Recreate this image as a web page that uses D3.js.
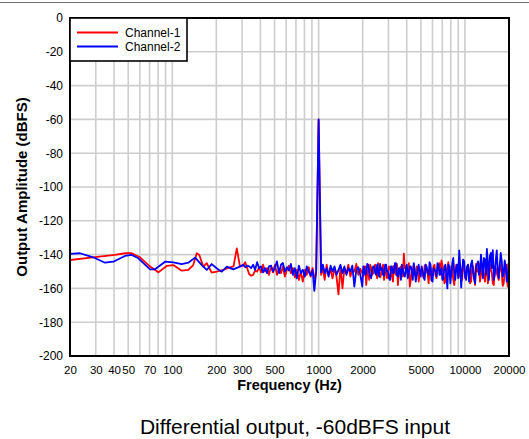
<!DOCTYPE html>
<html><head><meta charset="utf-8">
<script src="https://cdn.jsdelivr.net/npm/d3@7"></script>
<style>
body{margin:0;background:#fff;}
svg{display:block;font-family:Arial,"Liberation Sans",Helvetica,sans-serif;}
</style>
</head><body>
<svg id="c" width="529" height="439"></svg>
<script>
// ---- data ----
const seriesNames = ["Channel-1", "Channel-2"];
const seriesColors = ["#ff0000", "#0000ff"];
const xTickValues = [20, 30, 40, 50, 70, 100, 200, 300, 500, 1000, 2000, 5000, 10000, 20000];
const xGridValues = [30, 40, 50, 60, 70, 80, 90, 100, 200, 300, 400, 500, 600, 700, 800, 900,
  1000, 2000, 3000, 4000, 5000, 6000, 7000, 8000, 9000, 10000];
const yTickValues = [0, -20, -40, -60, -80, -100, -120, -140, -160, -180, -200];

// low-frequency part, channel 1
const lowFreq1 = [20, 28.7, 40.6, 47.5, 52.8, 60.2, 70.5, 80.3, 91.6, 101.6,
  116, 128.7, 139, 147, 153, 163, 172, 186, 201, 223,
  248, 262, 276, 290];
const lowDb1 = [-143.2, -141.6, -140.2, -139.2, -139.2, -141.6, -147.1, -150.5, -146.7, -146.2,
  -149.5, -149.1, -146.2, -139.2, -140.2, -147.1, -145.1, -150.7, -150.1, -149.1,
  -147.5, -147, -136.3, -147];
// low-frequency part, channel 2
const lowFreq2 = [20, 23.4, 28.8, 34.7, 39.5, 47.5, 52.8, 58.6, 70.5, 76.2,
  89.2, 101.6, 116, 128.7, 143, 147, 159, 172, 186, 201,
  218, 236, 261, 290];
const lowDb2 = [-139.6, -139.2, -141.6, -144.8, -144.2, -140.8, -140.2, -142.2, -148.7, -148.7,
  -144.2, -144.6, -145.6, -144.8, -141.8, -142.8, -146.2, -149.1, -145.6, -148.1,
  -150.1, -147.1, -148.7, -147.1];

// noise floor + 1 kHz tone, shared frequency bins
const noiseFreq = [305, 315, 325, 335, 346, 357, 368, 380, 392, 404,
  417, 430, 444, 458, 473, 488, 503, 519, 536, 553,
  570, 588, 607, 626, 646, 667, 688, 710, 733, 756,
  780, 805, 830, 856, 883, 910, 935, 962, 1000, 1040,
  1070, 1100, 1135, 1170, 1207, 1245, 1285, 1325, 1367, 1410,
  1455, 1500, 1548, 1597, 1648, 1700, 1754, 1810, 1868, 1927,
  1988, 2051, 2116, 2183, 2252, 2323, 2397, 2473, 2551, 2632,
  2715, 2801, 2890, 2981, 3075, 3172, 3272, 3376, 3483, 3593,
  3707, 3824, 3945, 4070, 4199, 4332, 4469, 4610, 4756, 4906,
  5061, 5221, 5386, 5556, 5731, 5912, 6099, 6292, 6491, 6696,
  6907, 7125, 7350, 7582, 7822, 8069, 8324, 8587, 8858, 9138,
  9427, 9725, 10032, 10349, 10676, 11013, 11361, 11720, 12090, 12472,
  12866, 13272, 13691, 14124, 14570, 15030, 15505, 15995, 16500, 17021,
  17559, 18114, 18686, 19276, 19885];
const noiseDb1 = [-146.5, -144.5, -148, -151.5, -152.5, -152, -149.5, -150, -147.5, -150.5,
  -146, -150, -148, -152, -147, -150.5, -146, -152, -148.5, -151,
  -147, -153, -149, -146.5, -151, -148, -153.5, -149, -155, -150,
  -156, -149, -152, -147.5, -153, -148, -154, -151, -60, -152,
  -148, -155, -146, -152, -149, -154, -148, -153, -163.5, -147,
  -160, -148, -151, -146, -153, -149, -150, -145.5, -152, -148.5,
  -151, -147, -158, -149, -146, -152, -148.5, -150, -145, -153.5,
  -149, -155, -147, -151, -148, -153, -146.5, -152, -158, -148,
  -150, -139.5, -147, -152, -159, -149, -146, -153, -148, -151.5,
  -148, -154, -146, -151, -149, -155.5, -147, -152, -148.5, -145,
  -143.5, -151, -156, -148, -152, -147, -155, -150, -146, -153,
  -149, -143, -154, -148, -151, -156, -147, -158, -150, -145,
  -152, -148, -156, -146, -153, -149, -157, -147, -151, -155,
  -148, -158.5, -150, -146, -153];
const noiseDb2 = [-146, -147.5, -146.5, -147, -148, -146, -149, -144.5, -148, -147,
  -150.5, -148, -151, -147, -146.5, -150, -148, -144, -151, -146,
  -145, -150, -147.5, -149.5, -145.5, -152, -148, -154, -146.5, -151,
  -149, -153, -147, -150, -152.5, -149, -161.5, -150, -60, -150.5,
  -146, -151, -148, -153, -146.5, -150, -147, -152, -149, -146,
  -151, -147, -152, -148, -150, -146.5, -159, -149, -147.5, -152,
  -159, -148, -151, -146, -153, -149, -147, -152, -150, -145.5,
  -148, -152.5, -146, -150, -155, -147, -151, -145, -153, -149,
  -146, -152, -148, -154, -147, -150, -145, -156, -149, -151,
  -147, -153, -146, -151, -144.5, -155, -148, -150, -145, -152,
  -148, -154, -146, -160, -147, -151, -142, -155, -146, -137.5,
  -159.5, -143, -153, -147, -156, -145.5, -150, -157, -146, -152,
  -140, -154, -143, -136.7, -155, -139, -137.3, -152, -137.5, -154,
  -139, -153, -143.5, -156, -145];

// extra (interleaved) noise bins above 2 kHz
const hiFreq = [2019, 2083, 2150, 2217, 2287, 2360, 2435, 2512, 2591, 2673,
  2758, 2845, 2935, 3028, 3123, 3222, 3324, 3429, 3538, 3650,
  3765, 3884, 4007, 4134, 4265, 4400, 4539, 4683, 4831, 4983,
  5141, 5303, 5471, 5643, 5821, 6005, 6195, 6391, 6593, 6801,
  7016, 7237, 7466, 7702, 7945, 8196, 8455, 8722, 8998, 9282,
  9576, 9878, 10190, 10512, 10844, 11187, 11540, 11905, 12281, 12669,
  13069, 13481, 13907, 14347, 14800, 15267, 15750, 16247, 16760, 17290,
  17836, 18400, 18981, 19580];
const hiDb1 = [-153, -147, -150, -155, -148, -151, -146, -154, -149, -152,
  -146, -151, -154, -147, -150, -156, -148, -145.5, -151, -147,
  -153, -148, -150, -145, -155, -149, -152, -147, -156, -150,
  -152, -146.5, -150, -157, -148, -151, -146, -154, -149, -152,
  -146, -157, -150, -144.5, -153, -148, -158, -146, -152, -149,
  -155, -147, -151, -146, -157, -149, -153, -145.5, -150, -156,
  -147, -152, -149, -157, -146, -151, -158, -148, -153, -146,
  -151, -157, -147, -159];
const hiDb2 = [-147, -152, -145.5, -150, -154, -147, -151, -146, -153, -149,
  -152, -146, -150, -154, -147, -151, -145, -152, -148, -155,
  -149, -153, -146, -151, -147, -155, -149, -152, -146, -153,
  -150, -155, -147, -152, -146, -156, -149, -153, -146, -151,
  -155, -147, -152, -146, -157, -145, -151, -148, -154, -147,
  -149, -144, -155, -146, -151, -143.5, -154, -147, -144, -150,
  -146, -142, -152, -145, -141, -148, -155, -143, -150, -146,
  -144, -151, -147, -155];

const xTitle = "Frequency (Hz)";
const yTitle = "Output Amplitude (dBFS)";
const caption = "Differential output, -60dBFS input";

// ---- build series ----
function pairs(fs, ds) {
  const n = Math.min(fs.length, ds.length);
  const out = [];
  for (let i = 0; i < n; i++) out.push({f: fs[i], v: ds[i]});
  return out;
}
function build(fl, dl, fn, dn, fh, dh) {
  return pairs(fl, dl).concat(pairs(fn, dn), pairs(fh, dh))
    .sort((a, b) => a.f - b.f);
}
const series = [
  build(lowFreq1, lowDb1, noiseFreq, noiseDb1, hiFreq, hiDb1),
  build(lowFreq2, lowDb2, noiseFreq, noiseDb2, hiFreq, hiDb2)
];

// ---- layout ----
const L = 70, R = 509, T = 18, B = 356;
const svg = d3.select("#c");
svg.append("rect").attr("width", 529).attr("height", 439).attr("fill", "#fff");
svg.append("line").attr("x1", 0).attr("x2", 529).attr("y1", 2.5).attr("y2", 2.5)
  .attr("stroke", "#6e6e6e").attr("stroke-width", 1);

const x = d3.scaleLog().domain([20, 20000]).range([L, R]);
const y = d3.scaleLinear().domain([-200, 0]).range([B, T]);

// grid
const grid = svg.append("g");
grid.selectAll("line.v").data(xGridValues).join("line")
  .attr("x1", d => x(d)).attr("x2", d => x(d)).attr("y1", T).attr("y2", B)
  .attr("stroke", "#cdcdcd").attr("stroke-width", 1.6);
grid.selectAll("line.h").data(yTickValues.filter(d => d > -200 && d < 0)).join("line")
  .attr("x1", L).attr("x2", R).attr("y1", d => y(d)).attr("y2", d => y(d))
  .attr("stroke", "#cdcdcd").attr("stroke-width", 1.6);

// clip
svg.append("clipPath").attr("id", "clp").append("rect")
  .attr("x", L).attr("y", T).attr("width", R - L).attr("height", B - T);

const line = d3.line().x(d => x(d.f)).y(d => y(d.v));
const lg = svg.append("g").attr("clip-path", "url(#clp)");
series.forEach((s, i) => {
  lg.append("path").datum(s).attr("d", line).attr("fill", "none")
    .attr("stroke", seriesColors[i]).attr("stroke-width", 1.8)
    .attr("stroke-linejoin", "round");
});

// frame
svg.append("rect").attr("x", L).attr("y", T).attr("width", R - L).attr("height", B - T)
  .attr("fill", "none").attr("stroke", "#000").attr("stroke-width", 2);

// axes
const fmt = d => String(d);
const xAxis = d3.axisBottom(x).tickValues(xTickValues).tickSize(0).tickPadding(0)
  .tickFormat(fmt);
const gx = svg.append("g").attr("transform", `translate(0,${B})`).call(xAxis);
gx.select(".domain").remove();
gx.selectAll("text").attr("dy", null).attr("y", 18).attr("font-size", 11.5)
  .attr("font-family", "Arial, 'Liberation Sans', sans-serif").attr("fill", "#000");

const yAxis = d3.axisLeft(y).tickValues(yTickValues).tickSize(0).tickPadding(0)
  .tickFormat(fmt);
const gy = svg.append("g").attr("transform", `translate(${L - 7},0)`).call(yAxis);
gy.select(".domain").remove();
gy.selectAll("text").attr("font-size", 12)
  .attr("font-family", "Arial, 'Liberation Sans', sans-serif").attr("fill", "#000");

// titles
svg.append("text").attr("x", (L + R) / 2).attr("y", 390).attr("text-anchor", "middle")
  .attr("font-size", 14.5).attr("font-weight", "bold").text(xTitle);
svg.append("text").attr("transform", `translate(27,${(T + B) / 2}) rotate(-90)`)
  .attr("text-anchor", "middle").attr("font-size", 15).attr("font-weight", "bold").text(yTitle);
svg.append("text").attr("x", 295).attr("y", 434).attr("text-anchor", "middle")
  .attr("font-size", 21).text(caption);

// legend
const leg = svg.append("g");
leg.append("rect").attr("x", L).attr("y", T).attr("width", 117).attr("height", 43)
  .attr("fill", "#fff").attr("stroke", "#000").attr("stroke-width", 1.6);
seriesNames.forEach((n, i) => {
  const yy = 32.5 + i * 14;
  leg.append("line").attr("x1", 77).attr("x2", 118).attr("y1", yy).attr("y2", yy)
    .attr("stroke", seriesColors[i]).attr("stroke-width", 1.8);
  leg.append("text").attr("x", 125).attr("y", yy + 4.3).attr("font-size", 12).text(n);
});
</script>
</body></html>
